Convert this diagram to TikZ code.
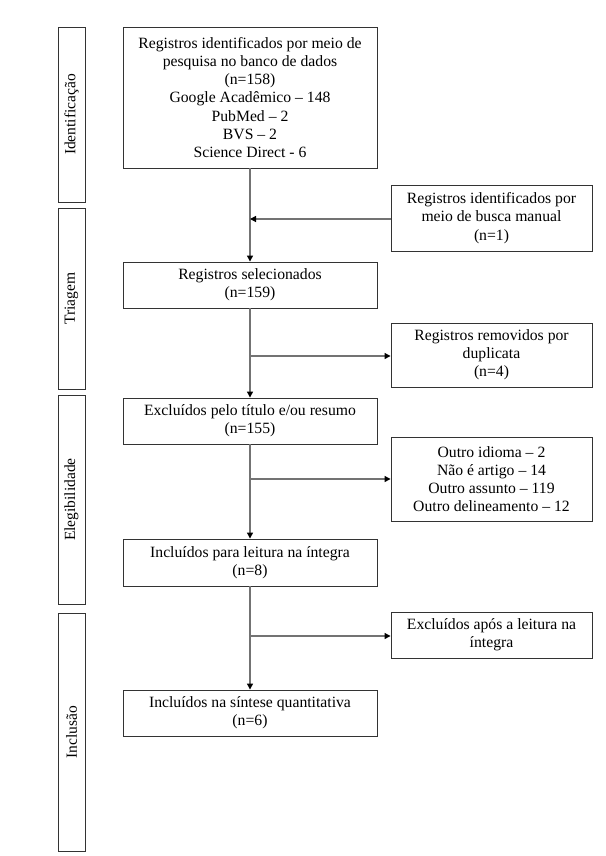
\documentclass[tikz,border=0pt]{standalone}
\usepackage{fontspec}
\setmainfont{Liberation Serif}
\usetikzlibrary{arrows.meta}
\begin{document}
\begin{tikzpicture}[x=1pt,y=-1pt,
  box/.style={draw=black!80,line width=0.9pt,fill=white,align=center,inner sep=0pt,
    font=\fontsize{15.7}{18.2}\selectfont,minimum width=254pt},
  rbox/.style={box,minimum width=201pt},
  sbox/.style={draw=black!80,line width=0.9pt,minimum width=27pt,inner sep=0pt},
  stext/.style={rotate=90,font=\fontsize{15.5}{17}\selectfont},
  conn/.style={draw=black!55,line width=1.2pt},
  arr/.style={conn,-{Triangle[length=6pt,width=6pt,color=black]}}]
\useasboundingbox (0,0) rectangle (605,856);
% side boxes
\node[sbox,minimum height=175pt] (s1) at (71.5,114.5) {};
\node[stext] at (s1.center) {Identificação};
\node[sbox,minimum height=181pt] (s2) at (71.5,298.5) {};
\node[stext] at (s2.center) {Triagem};
\node[sbox,minimum height=209pt] (s3) at (71.5,499.5) {};
\node[stext] at (s3.center) {Elegibilidade};
\node[sbox,minimum height=238pt] (s4) at (71.5,732) {};
\node[stext] at (s4.center) {Inclusão};
% main boxes
\node[box,minimum height=141pt] (b1) at (250,97.5) {Registros identificados por meio de\\pesquisa no banco de dados\\(n=158)\\Google Acadêmico – 148\\PubMed – 2\\BVS – 2\\Science Direct - 6};
\node[box,minimum height=46pt] (b2) at (250,285) {Registros selecionados\\(n=159)};
\node[box,minimum height=46pt] (b3) at (250,421) {Excluídos pelo título e/ou resumo\\(n=155)};
\node[box,minimum height=47pt] (b4) at (250,562.5) {Incluídos para leitura na íntegra\\(n=8)};
\node[box,minimum height=46pt] (b5) at (250,713) {Incluídos na síntese quantitativa\\(n=6)};
% right boxes
\node[rbox,minimum height=66pt] (r1) at (491.5,218) {Registros identificados por\\meio de busca manual\\(n=1)};
\node[rbox,minimum height=64pt] (r2) at (491.5,355) {Registros removidos por\\duplicata\\(n=4)};
\node[rbox,minimum height=84pt] (r3) at (491.5,479) {Outro idioma – 2\\Não é artigo – 14\\Outro assunto – 119\\Outro delineamento – 12};
\node[rbox,minimum height=46pt] (r4) at (491.5,635) {Excluídos após a leitura na\\íntegra};
% connectors
\coordinate (j1) at (250,219);
\coordinate (j2) at (250,356);
\coordinate (j3) at (250,479);
\coordinate (j4) at (250,636);
\draw[arr] (b1.south) -- (b2.north);
\draw[arr] (r1.west |- j1) -- (j1);
\draw[arr] (b2.south) -- (b3.north);
\draw[arr] (j2) -- (r2.west |- j2);
\draw[arr] (b3.south) -- (b4.north);
\draw[arr] (j3) -- (r3.west |- j3);
\draw[arr] (b4.south) -- (b5.north);
\draw[arr] (j4) -- (r4.west |- j4);
\end{tikzpicture}
\end{document}
